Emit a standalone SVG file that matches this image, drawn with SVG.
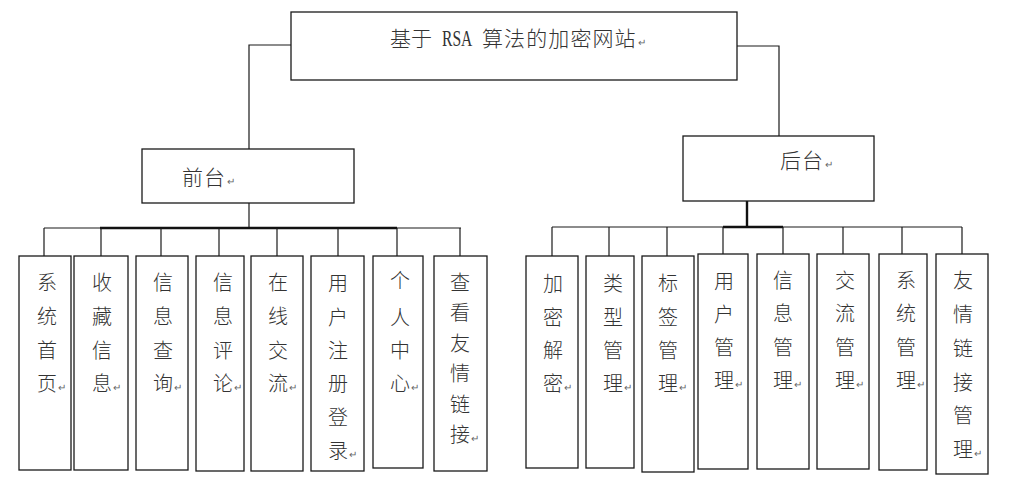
<svg xmlns="http://www.w3.org/2000/svg" width="1023" height="496" viewBox="0 0 1023 496">
<style>
.box{fill:#fff;stroke:#1a1a1a;stroke-width:1.3}
.ln{fill:none;stroke:#1a1a1a;stroke-width:1.2}
.thk{fill:none;stroke:#111;stroke-width:2.4}
.t{font-family:"Noto Sans CJK SC","Noto Sans",sans-serif;font-size:20px;font-weight:300;fill:#333;text-anchor:middle}
.h{font-family:"Noto Sans CJK SC","Noto Sans",sans-serif;font-size:21px;font-weight:300;fill:#333}
.r{font-family:"Noto Sans",sans-serif;font-size:10px;fill:#666}
</style>
<rect width="1023" height="496" fill="#fff"/>
<g id="connectors">
<polyline class="ln" points="291,45 249,45 249,149"/>
<polyline class="ln" points="737,46 779,46 779,136"/>
<line class="ln" x1="249" y1="203" x2="249" y2="228"/>
<line class="ln" x1="44" y1="228" x2="461" y2="228"/>
<line class="thk" x1="100" y1="228" x2="397" y2="228"/>
<line class="ln" x1="44" y1="228" x2="44" y2="256"/>
<line class="ln" x1="101" y1="228" x2="101" y2="256"/>
<line class="ln" x1="161" y1="228" x2="161" y2="256"/>
<line class="ln" x1="219" y1="228" x2="219" y2="256"/>
<line class="ln" x1="277" y1="228" x2="277" y2="256"/>
<line class="ln" x1="338" y1="228" x2="338" y2="256"/>
<line class="ln" x1="397" y1="228" x2="397" y2="256"/>
<line class="ln" x1="460" y1="228" x2="460" y2="256"/>
<line class="thk" x1="747" y1="201" x2="747" y2="227"/>
<line class="ln" x1="552" y1="227" x2="962" y2="227"/>
<line class="thk" x1="723" y1="227" x2="783" y2="227"/>
<line class="ln" x1="552" y1="227" x2="552" y2="256"/>
<line class="ln" x1="609" y1="227" x2="609" y2="256"/>
<line class="ln" x1="667" y1="227" x2="667" y2="256"/>
<line class="ln" x1="723" y1="227" x2="723" y2="254"/>
<line class="ln" x1="783" y1="227" x2="783" y2="254"/>
<line class="ln" x1="843" y1="227" x2="843" y2="254"/>
<line class="ln" x1="902" y1="227" x2="902" y2="254"/>
<line class="ln" x1="962" y1="227" x2="962" y2="254"/>
</g>
<g id="root">
<rect class="box" x="291" y="12" width="446" height="68"/>
<text class="h" x="390" y="46">基于</text>
<text transform="translate(442,46) scale(0.68,1)" x="0" y="0" font-family="Liberation Serif,serif" font-size="23" fill="#333">RSA</text>
<text class="h" x="482" y="46" letter-spacing="1.1">算法的加密网站</text>
<text class="r" x="638" y="46">↵</text>
</g>
<g id="front">
<rect class="box" x="142" y="149" width="212" height="54"/>
<text class="h" x="182" y="185" letter-spacing="1">前台</text>
<text class="r" x="227" y="185">↵</text>
</g>
<g id="back">
<rect class="box" x="683" y="136" width="191" height="65"/>
<text class="h" x="780" y="168" letter-spacing="1">后台</text>
<text class="r" x="825" y="168">↵</text>
</g>
<g id="L1"><rect class="box" x="19" y="256" width="52" height="214"/>
<text class="t"><tspan x="47" y="290">系</tspan><tspan x="47" y="324">统</tspan><tspan x="47" y="358">首</tspan><tspan x="47" y="391">页</tspan></text><text class="r" x="58" y="391">↵</text></g>
<g id="L2"><rect class="box" x="74" y="256" width="54" height="214"/>
<text class="t"><tspan x="102" y="290">收</tspan><tspan x="102" y="324">藏</tspan><tspan x="102" y="358">信</tspan><tspan x="102" y="391">息</tspan></text><text class="r" x="113" y="391">↵</text></g>
<g id="L3"><rect class="box" x="136" y="256" width="52" height="214"/>
<text class="t"><tspan x="163" y="290">信</tspan><tspan x="163" y="324">息</tspan><tspan x="163" y="358">查</tspan><tspan x="163" y="391">询</tspan></text><text class="r" x="174" y="391">↵</text></g>
<g id="L4"><rect class="box" x="196" y="256" width="48" height="215"/>
<text class="t"><tspan x="223" y="290">信</tspan><tspan x="223" y="324">息</tspan><tspan x="223" y="358">评</tspan><tspan x="223" y="391">论</tspan></text><text class="r" x="234" y="391">↵</text></g>
<g id="L5"><rect class="box" x="251" y="256" width="52" height="215"/>
<text class="t"><tspan x="278" y="290">在</tspan><tspan x="278" y="324">线</tspan><tspan x="278" y="358">交</tspan><tspan x="278" y="391">流</tspan></text><text class="r" x="289" y="391">↵</text></g>
<g id="L6"><rect class="box" x="311" y="256" width="53" height="215"/>
<text class="t"><tspan x="338" y="291">用</tspan><tspan x="338" y="325">户</tspan><tspan x="338" y="358">注</tspan><tspan x="338" y="391">册</tspan><tspan x="338" y="425">登</tspan><tspan x="338" y="458">录</tspan></text><text class="r" x="349" y="458">↵</text></g>
<g id="L7"><rect class="box" x="373" y="256" width="50" height="212"/>
<text class="t"><tspan x="400" y="288">个</tspan><tspan x="400" y="325">人</tspan><tspan x="400" y="358">中</tspan><tspan x="400" y="391">心</tspan></text><text class="r" x="411" y="391">↵</text></g>
<g id="L8"><rect class="box" x="434" y="256" width="53" height="215"/>
<text class="t"><tspan x="460" y="290">查</tspan><tspan x="460" y="320">看</tspan><tspan x="460" y="351">友</tspan><tspan x="460" y="381">情</tspan><tspan x="460" y="412">链</tspan><tspan x="460" y="442">接</tspan></text><text class="r" x="471" y="442">↵</text></g>
<g id="R1"><rect class="box" x="526" y="256" width="52" height="212"/>
<text class="t"><tspan x="553" y="291">加</tspan><tspan x="553" y="325">密</tspan><tspan x="553" y="358">解</tspan><tspan x="553" y="391">密</tspan></text><text class="r" x="564" y="391">↵</text></g>
<g id="R2"><rect class="box" x="586" y="256" width="48" height="212"/>
<text class="t"><tspan x="613" y="291">类</tspan><tspan x="613" y="325">型</tspan><tspan x="613" y="358">管</tspan><tspan x="613" y="391">理</tspan></text><text class="r" x="624" y="391">↵</text></g>
<g id="R3"><rect class="box" x="642" y="256" width="52" height="216"/>
<text class="t"><tspan x="668" y="291">标</tspan><tspan x="668" y="325">签</tspan><tspan x="668" y="358">管</tspan><tspan x="668" y="391">理</tspan></text><text class="r" x="679" y="391">↵</text></g>
<g id="R4"><rect class="box" x="698" y="254" width="50" height="215"/>
<text class="t"><tspan x="724" y="289">用</tspan><tspan x="724" y="322">户</tspan><tspan x="724" y="355">管</tspan><tspan x="724" y="388">理</tspan></text><text class="r" x="735" y="388">↵</text></g>
<g id="R5"><rect class="box" x="757" y="254" width="52" height="215"/>
<text class="t"><tspan x="783" y="288">信</tspan><tspan x="783" y="321">息</tspan><tspan x="783" y="355">管</tspan><tspan x="783" y="388">理</tspan></text><text class="r" x="794" y="388">↵</text></g>
<g id="R6"><rect class="box" x="817" y="254" width="52" height="215"/>
<text class="t"><tspan x="845" y="288">交</tspan><tspan x="845" y="321">流</tspan><tspan x="845" y="355">管</tspan><tspan x="845" y="388">理</tspan></text><text class="r" x="856" y="388">↵</text></g>
<g id="R7"><rect class="box" x="879" y="254" width="48" height="216"/>
<text class="t"><tspan x="906" y="288">系</tspan><tspan x="906" y="321">统</tspan><tspan x="906" y="355">管</tspan><tspan x="906" y="388">理</tspan></text><text class="r" x="917" y="388">↵</text></g>
<g id="R8"><rect class="box" x="936" y="254" width="52" height="220"/>
<text class="t"><tspan x="963" y="288">友</tspan><tspan x="963" y="322">情</tspan><tspan x="963" y="356">链</tspan><tspan x="963" y="390">接</tspan><tspan x="963" y="423">管</tspan><tspan x="963" y="457">理</tspan></text><text class="r" x="974" y="457">↵</text></g>
</svg>
